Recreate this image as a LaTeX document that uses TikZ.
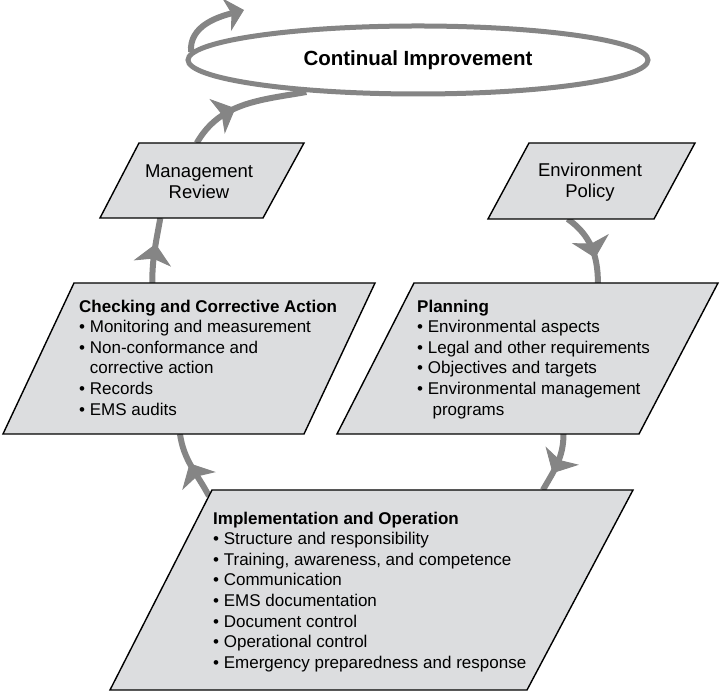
\documentclass[tikz,border=0pt]{standalone}
\usepackage{fontspec}
\setmainfont{Liberation Sans}
\usepackage{xcolor}
\usepackage{tikz}
\usetikzlibrary{positioning, arrows.meta, calc, shapes.geometric, decorations.markings, backgrounds}
\definecolor{boxfill}{HTML}{DCDDDF}
\definecolor{loopgray}{HTML}{858585}

\begin{document}
\begin{tikzpicture}[x=1pt, y=1pt,
    stagebox/.style={draw=black, line width=1.4pt, fill=boxfill},
    stagelabel/.style={align=center, inner sep=0pt, font=\fontsize{18.5}{21}\selectfont},
    bodytext/.style={anchor=north west, align=left, inner sep=0pt,
      font=\fontsize{17}{20.6}\selectfont},
    looparrow/.style={loopgray, line width=6pt, postaction={decorate},
      decoration={markings, mark=at position #1 with
        {\arrow{Stealth[length=20pt, width=38pt, inset=5pt, line width=1pt]}}}}]
  \useasboundingbox (0,0) rectangle (720,692);

  % loop at the top
  \node[ellipse, draw=loopgray, line width=5pt, fill=white, minimum width=460pt,
        minimum height=68pt, inner sep=0pt,
        font=\bfseries\fontsize{20.5}{24}\selectfont] (ci) at (418,632) {Continual Improvement};
  \coordinate (loop-out) at (244,682);

  % the five stages
  \draw[stagebox] (100,474) coordinate (mgmt-bl) -- (263,474) coordinate (mgmt-br)
    -- (304,549) coordinate (mgmt-tr) -- (139,549) coordinate (mgmt-tl) -- cycle;
  \node[stagelabel] (mgmt) at (199,510) {Management\\Review};

  \draw[stagebox] (488,473) coordinate (envp-bl) -- (654,473) coordinate (envp-br)
    -- (695,549) coordinate (envp-tr) -- (529,549) coordinate (envp-tl) -- cycle;
  \node[stagelabel] (envp) at (590,510) {Environment\\Policy};

  \draw[stagebox] (3,258) coordinate (check-bl) -- (304,258) coordinate (check-br)
    -- (375,409) coordinate (check-tr) -- (74,409) coordinate (check-tl) -- cycle;
  \node[bodytext] (check) at (79,392.4) {%
    \textbf{Checking and Corrective Action}\\
    \textbullet\ Monitoring and measurement\\
    \textbullet\ Non-conformance and\\
    \phantom{\textbullet\ }corrective action\\
    \textbullet\ Records\\
    \textbullet\ EMS audits};

  \draw[stagebox] (337,258) coordinate (plan-bl) -- (639,258) coordinate (plan-br)
    -- (718,409) coordinate (plan-tr) -- (414,409) coordinate (plan-tl) -- cycle;
  \node[bodytext] (plan) at (417,392.4) {%
    \textbf{Planning}\\
    \textbullet\ Environmental aspects\\
    \textbullet\ Legal and other requirements\\
    \textbullet\ Objectives and targets\\
    \textbullet\ Environmental management\\
    \phantom{\textbullet\ }\ programs};

  \draw[stagebox] (110,2) coordinate (impl-bl) -- (527,2) coordinate (impl-br)
    -- (633,202) coordinate (impl-tr) -- (212,202) coordinate (impl-tl) -- cycle;
  \node[bodytext] (impl) at (213,180.4) {%
    \textbf{Implementation and Operation}\\
    \textbullet\ Structure and responsibility\\
    \textbullet\ Training, awareness, and competence\\
    \textbullet\ Communication\\
    \textbullet\ EMS documentation\\
    \textbullet\ Document control\\
    \textbullet\ Operational control\\
    \textbullet\ Emergency preparedness and response};

  % the cycle arrows
  \begin{scope}[on background layer]
    \draw[looparrow=0.55] ($(impl-tl)!0.03!(impl-bl)$) to[out=118, in=-82]
      ($(check-bl)!0.588!(check-br)$);
    \draw[looparrow=0.6] ($(check-tl)!0.26!(check-tr)$)
      to[out=90, in=-100] ($(mgmt-bl)!0.37!(mgmt-br)$);
    \draw[looparrow=0.42] ($(mgmt-tl)!0.35!(mgmt-tr)$)
      to[out=60, in=190] (ci.196);
    \draw[loopgray, line width=6pt, -{Stealth[length=18pt, width=34pt, inset=5pt, line width=1pt]}]
      (ci.178) to[out=95, in=195] (loop-out);
    \draw[looparrow=0.66] ($(envp-bl)!0.48!(envp-br)$)
      to[out=-35, in=90] ($(plan-tl)!0.605!(plan-tr)$);
    \draw[looparrow=0.68] ($(plan-bl)!0.75!(plan-br)$)
      to[out=-90, in=60] ($(impl-tl)!0.786!(impl-tr)$);
  \end{scope}
\end{tikzpicture}
\end{document}
